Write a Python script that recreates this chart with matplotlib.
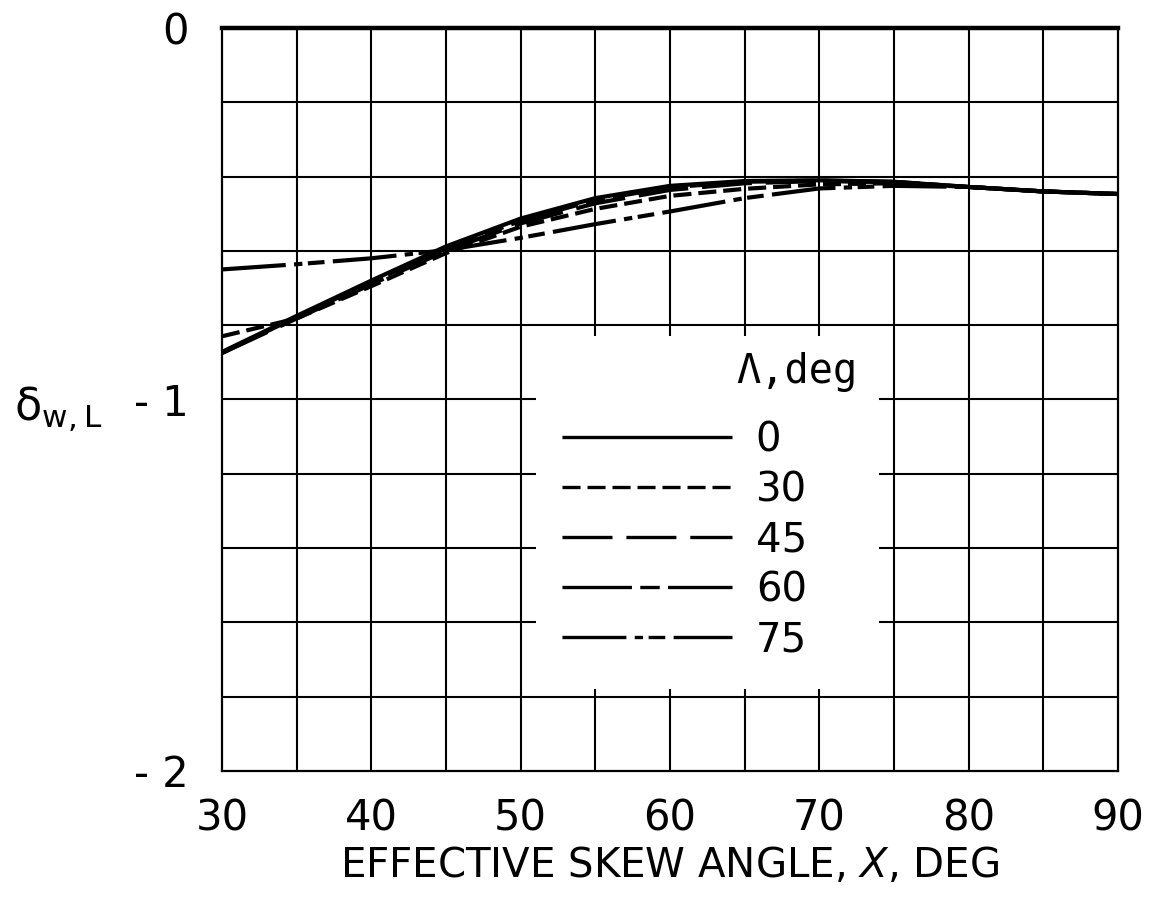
import matplotlib
matplotlib.use("Agg")
import matplotlib.pyplot as plt
from matplotlib.patches import Rectangle

plt.rcParams["font.family"] = ["DejaVu Sans"]
plt.rcParams["lines.scale_dashes"] = False

# effective skew angle, deg
chi = [30, 35, 40, 45, 50, 55, 60, 65, 70, 75, 80, 85, 90]

# delta_w,L for each sweep angle Lambda
delta_0 = [-0.872, -0.775, -0.680, -0.588, -0.513, -0.458, -0.425, -0.412, -0.410, -0.414, -0.428, -0.440, -0.447]
delta_30 = [-0.830, -0.782, -0.695, -0.606, -0.535, -0.487, -0.452, -0.433, -0.421, -0.418, -0.428, -0.440, -0.447]
delta_45 = [-0.875, -0.782, -0.690, -0.600, -0.526, -0.472, -0.436, -0.418, -0.412, -0.415, -0.428, -0.440, -0.447]
delta_60 = [-0.875, -0.778, -0.684, -0.593, -0.519, -0.463, -0.429, -0.414, -0.411, -0.414, -0.428, -0.440, -0.447]
delta_75 = [-0.650, -0.636, -0.620, -0.598, -0.565, -0.528, -0.494, -0.458, -0.432, -0.425, -0.428, -0.440, -0.447]

sweep_labels = ["0", "30", "45", "60", "75"]
series = [delta_0, delta_30, delta_45, delta_60, delta_75]
dash_styles = [
    "-",
    (0, (13, 5)),
    (0, (36, 10)),
    (0, (50, 6, 14, 6)),
    (0, (46, 6, 6, 4, 12, 6)),
]

x_ticks = [30, 40, 50, 60, 70, 80, 90]
y_ticks = [0, -1, -2]
y_tick_labels = ["0", "- 1", "- 2"]

fig = plt.figure(figsize=(11.52, 8.99), dpi=100)
ax = fig.add_axes([0.1927, 0.1424, 0.7778, 0.8265])

ax.set_xlim(30, 90)
ax.set_ylim(-2, 0)

# grid every 5 deg and every 0.2
for gx in range(35, 90, 5):
    ax.axvline(gx, color="black", lw=1.5, zorder=0.5)
for i in range(1, 10):
    ax.axhline(-0.2 * i, color="black", lw=1.5, zorder=0.5)

for side in ["left", "right", "bottom"]:
    ax.spines[side].set_linewidth(1.6)
ax.spines["top"].set_linewidth(3.2)

# blank area behind the key
ax.add_patch(Rectangle((51.0, -1.78), 23.0, 0.95, facecolor="white", edgecolor="none", zorder=1))

for vals, ls, lab in zip(series, dash_styles, sweep_labels):
    ax.plot(chi, vals, color="black", lw=3.0, linestyle=ls, label=lab,
            solid_capstyle="butt", dash_capstyle="butt", zorder=2)

ax.set_xticks(x_ticks)
ax.set_xticklabels([str(t) for t in x_ticks], fontsize=30)
ax.set_yticks(y_ticks)
ax.set_yticklabels(y_tick_labels, fontsize=30)
ax.tick_params(axis="both", length=0)
ax.tick_params(axis="x", pad=19)
ax.tick_params(axis="y", pad=24)

ax.set_xlabel("EFFECTIVE SKEW ANGLE, $\\mathit{X}$, DEG", fontsize=29, labelpad=5)
fig.text(0.012, 0.545, r"δ$_{\mathrm{w,L}}$", fontsize=32, ha="left", va="center")

ax.text(0.642, 0.537, "Λ,deg", transform=ax.transAxes, ha="center", va="center",
        family="DejaVu Sans Mono", fontsize=29, zorder=3)
leg = ax.legend(loc="upper left", bbox_to_anchor=(0.362, 0.494), frameon=False,
                fontsize=29, handlelength=4.2, handletextpad=0.6,
                labelspacing=0.25, borderaxespad=0)
leg.set_zorder(3)
for line in leg.get_lines():
    line.set_linewidth(2.4)

fig.savefig("out.png", dpi=100, facecolor="white")
